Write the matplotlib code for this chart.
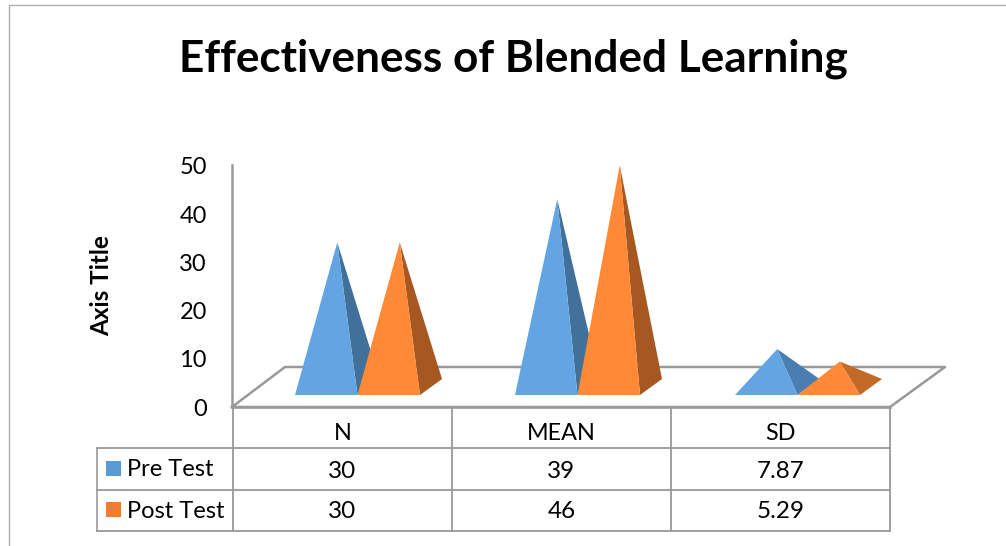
import matplotlib
matplotlib.use('Agg')
import matplotlib.pyplot as plt
from matplotlib.patches import Polygon, Rectangle

plt.rcParams['font.family'] = ['Lato', 'DejaVu Sans']

categories = ['N', 'MEAN', 'SD']
pre_test = [30, 39, 7.87]
post_test = [30, 46, 5.29]
pre_labels = ['30', '39', '7.87']
post_labels = ['30', '46', '5.29']
y_ticks = [0, 10, 20, 30, 40, 50]

BLUE, BLUE_DK = '#63a5e3', '#41709b'
ORANGE, ORANGE_DK = '#ff8937', '#a65820'
GREY = '#999999'

# everything is laid out in picture pixels
fig = plt.figure(figsize=(10.06, 5.46), dpi=100)
ax = fig.add_axes([0, 0, 1, 1])
ax.set_xlim(0, 1006)
ax.set_ylim(546, 0)
ax.axis('off')

PX_PER_UNIT = 4.82
AXIS_ZERO = 406.5


def line(xs, ys, lw=1.5, color=GREY):
    ax.plot(xs, ys, color=color, lw=lw, solid_capstyle='projecting', zorder=2)


def pyramid(left, value, col, col_dark):
    w = 62.5
    base_y = 395
    dx, dy = 22, -16  # depth of the base
    apex = (left + w / 2 + dx / 2, base_y + dy / 2 - value * PX_PER_UNIT)
    ax.add_patch(Polygon([(left + w, base_y), (left + w + dx, base_y + dy), apex],
                         fc=col_dark, ec='none', zorder=3))
    ax.add_patch(Polygon([(left, base_y), (left + w, base_y), apex],
                         fc=col, ec='none', zorder=3))


# outer frame, open on the right
line([9, 9, 1006], [546, 5, 5], lw=1, color='#b0b0b0')

ax.text(513.5, 58.5, 'Effectiveness of Blended Learning', fontsize=31.8, fontweight='bold',
        ha='center', va='center', color='black')
ax.text(102, 286, 'Axis Title', fontsize=17.5, fontweight='bold', rotation=90,
        ha='center', va='center', color='black')

# floor and wall
line([232, 232], [165, 407], lw=1.8)
line([232, 285, 945, 890, 232], [407, 367, 367, 407, 407], lw=1.8)

for t in y_ticks:
    ax.text(207, AXIS_ZERO - t * PX_PER_UNIT + 2.5, str(t), fontsize=17, ha='right', va='center')

for i in range(len(categories)):
    left = 295 + i * 220
    if i < 2:
        pyramid(left, pre_test[i], BLUE, BLUE_DK)
        pyramid(left + 62.5, post_test[i], ORANGE, ORANGE_DK)
    else:
        pyramid(left, pre_test[i], BLUE, '#4a7eb0')
        pyramid(left + 62.5, post_test[i], ORANGE, '#c46a28')

# data table
cols = [233, 452, 671, 890]
rows = [407, 448, 490, 531]
for x in cols:
    line([x, x], [rows[0], rows[3]], lw=1.3)
line([97, 97], [rows[1], rows[3]], lw=1.2)
line([233, 890], [rows[0], rows[0]], lw=1.8)
for y in rows[1:]:
    line([97, 890], [y, y], lw=1.3)

for i in range(3):
    cx = (cols[i] + cols[i + 1]) / 2
    ax.text(cx, 433, categories[i], fontsize=16.8, ha='center', va='center')
    ax.text(cx, 471, pre_labels[i], fontsize=17.5, ha='center', va='center')
    ax.text(cx, 511.5, post_labels[i], fontsize=17.5, ha='center', va='center')

ax.add_patch(Rectangle((106, 461), 15, 15, fc='#5b9bd5', ec='none'))
ax.add_patch(Rectangle((106, 502), 15, 15, fc='#ed7d31', ec='none'))
ax.text(127, 470, 'Pre Test', fontsize=17, ha='left', va='center')
ax.text(127, 511.5, 'Post Test', fontsize=17, ha='left', va='center')

fig.savefig('out.png', dpi=100)
